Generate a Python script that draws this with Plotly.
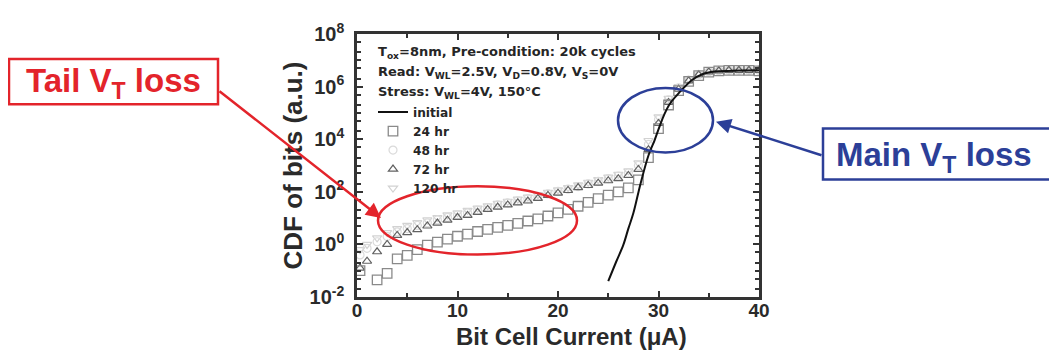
import plotly.graph_objects as go

# ---------------- data ----------------
# Bit cell current (uA) and log10(CDF of bits)
current_initial = [25.0, 25.8, 26.5, 27.0, 27.5, 28.2, 29.0, 29.6, 30.1, 30.6, 31.1, 31.8, 32.5, 33.3, 34.3, 35.6, 38.0, 40.0]
logcdf_initial = [-1.40, -0.65, -0.02, 0.60, 1.19, 2.29, 3.38, 3.95, 4.48, 4.96, 5.33, 5.66, 5.95, 6.24, 6.46, 6.57, 6.61, 6.62]

current_24hr = [0.3, 2, 3, 4, 5, 6, 7, 8, 9, 10, 11, 12, 13, 14, 15, 16, 17, 18, 19, 20,
                21, 22, 23, 24, 25, 26, 27, 28, 29, 30, 31, 32, 33, 34, 35, 36, 37, 38, 39, 40]
logcdf_24hr = [-1.00, -1.35, -1.10, -0.55, -0.42, -0.20, -0.03, 0.09, 0.20, 0.31, 0.39, 0.49, 0.57, 0.65, 0.72, 0.80, 0.89, 0.97, 1.08, 1.20,
               1.33, 1.45, 1.60, 1.74, 1.87, 2.00, 2.15, 2.45, 3.30, 4.40, 5.30, 5.85, 6.20, 6.42, 6.55, 6.60, 6.62, 6.62, 6.62, 6.60]

current_48hr = [0.3, 1, 2, 3, 4, 5, 6, 7, 8, 9, 10, 11, 12, 13, 14, 15, 16, 17, 18, 19, 20,
                21, 22, 23, 24, 25, 26, 27, 28, 29, 30, 31, 32, 33, 34, 35, 36, 37, 38, 39, 40]
logcdf_48hr = [-0.40, -0.15, 0.10, 0.30, 0.48, 0.60, 0.72, 0.82, 0.93, 1.03, 1.12, 1.20, 1.30, 1.40, 1.50, 1.58, 1.66, 1.74, 1.83, 1.92, 2.02,
               2.10, 2.20, 2.30, 2.40, 2.50, 2.60, 2.72, 3.00, 3.80, 4.75, 5.50, 5.95, 6.25, 6.45, 6.56, 6.60, 6.62, 6.62, 6.62, 6.62]

current_72hr = [0.3, 1, 2, 3, 4, 5, 6, 7, 8, 9, 10, 11, 12, 13, 14, 15, 16, 17, 18, 19, 20,
                21, 22, 23, 24, 25, 26, 27, 28, 29, 30, 31, 32, 33, 34, 35, 36, 37, 38, 39, 40]
logcdf_72hr = [-0.90, -0.64, -0.28, 0.00, 0.34, 0.45, 0.56, 0.70, 0.81, 0.92, 1.03, 1.10, 1.22, 1.33, 1.42, 1.50, 1.58, 1.65, 1.75, 1.86, 1.95,
               2.05, 2.16, 2.24, 2.33, 2.42, 2.50, 2.62, 2.85, 3.60, 4.60, 5.40, 5.90, 6.22, 6.45, 6.56, 6.60, 6.62, 6.62, 6.62, 6.62]

current_120hr = [0.3, 1, 2, 3, 4, 5, 6, 7, 8, 9, 10, 11, 12, 13, 14, 15, 16, 17, 18, 19, 20,
                 21, 22, 23, 24, 25, 26, 27, 28, 29, 30, 31, 32, 33, 34, 35, 36, 37, 38, 39, 40]
logcdf_120hr = [-0.20, 0.00, 0.25, 0.45, 0.60, 0.72, 0.83, 0.93, 1.02, 1.12, 1.20, 1.29, 1.38, 1.47, 1.56, 1.64, 1.72, 1.80, 1.89, 1.98, 2.07,
                2.16, 2.26, 2.36, 2.46, 2.56, 2.66, 2.80, 3.10, 3.95, 4.85, 5.55, 6.00, 6.28, 6.47, 6.57, 6.60, 6.62, 6.62, 6.62, 6.62]

y_label_exponents = [-2, 0, 2, 4, 6, 8]
y_minor_exponents = [-1, 1, 3, 5, 7]
x_tick_values = [0, 10, 20, 30, 40]

# ---------------- figure ----------------
OFF = 8                      # page offset of the figure (body margin)
PAGE_W, PAGE_H = 1057, 353
W, H = PAGE_W - OFF, PAGE_H - OFF
L, R, T, B = 357, 759, 24, 297  # plot area in page pixels


def px(x):
    return (x - L) / (R - L)


def py(y):
    return (B - y) / (B - T)


FONT = "Arial, Liberation Sans, sans-serif"
WIDE = "DejaVu Sans, Verdana, sans-serif"


def to_cdf(vals):
    return [10 ** v for v in vals]


fig = go.Figure()

fig.add_trace(go.Scatter(
    x=current_120hr, y=to_cdf(logcdf_120hr), mode="markers", name="120 hr", legendrank=5,
    marker=dict(symbol="triangle-down-open", size=8, color="#d2d2d2", line=dict(width=1.2, color="#d2d2d2"))))
fig.add_trace(go.Scatter(
    x=current_48hr, y=to_cdf(logcdf_48hr), mode="markers", name="48 hr", legendrank=3,
    marker=dict(symbol="circle-open", size=8, color="#dadada", line=dict(width=1.2, color="#dadada"))))
fig.add_trace(go.Scatter(
    x=current_72hr, y=to_cdf(logcdf_72hr), mode="markers", name="72 hr", legendrank=4,
    marker=dict(symbol="triangle-up-open", size=8, color="#626262", line=dict(width=1.2, color="#626262"))))
fig.add_trace(go.Scatter(
    x=current_24hr, y=to_cdf(logcdf_24hr), mode="markers", name="24 hr", legendrank=2,
    marker=dict(symbol="square-open", size=9.5, color="#8a8a8a", line=dict(width=1.3, color="#8a8a8a"))))
fig.add_trace(go.Scatter(
    x=current_initial, y=to_cdf(logcdf_initial), mode="lines", name="initial", legendrank=1,
    line=dict(color="#111111", width=2, shape="spline")))

axis_common = dict(
    showline=True, linecolor="#333333", linewidth=2.5, mirror="allticks",
    ticks="inside", tickcolor="#333333", showgrid=False, zeroline=False,
)

fig.update_xaxes(
    **axis_common, range=[0, 40], tickvals=x_tick_values, ticklen=6, tickwidth=2,
    tickfont=dict(family=FONT, size=19, color="#2a2a2a", weight="bold"),
    minor=dict(ticks="inside", dtick=5, ticklen=4, tickwidth=2, tickcolor="#333333", showgrid=False),
    ticklabelstandoff=-6,
)

minor_vals = [10 ** e for e in y_minor_exponents]
for e in range(-2, 8):
    minor_vals += [2 * 10 ** e, 5 * 10 ** e]

fig.update_yaxes(
    **axis_common, type="log", range=[-2, 8],
    tickvals=[10 ** e for e in y_label_exponents],
    ticktext=[f"10<sup>{e}</sup>" for e in y_label_exponents],
    tickfont=dict(family=FONT, size=20, color="#2a2a2a", weight="bold"),
    ticklen=6, tickwidth=2,
    minor=dict(ticks="inside", tickmode="array", tickvals=minor_vals, ticklen=4, tickwidth=1.5,
               tickcolor="#333333", showgrid=False),
    ticklabelstandoff=6,
    title=dict(text="CDF of bits (a.u.)", standoff=0,
               font=dict(family=FONT, size=26, color="#2a2a2a", weight="bold")),
)

annotations = []

# x axis title (slightly right of centre, as in the reference)
annotations.append(dict(
    text="Bit Cell Current (μA)", x=px(571), y=py(338.5), xref="paper", yref="paper",
    xanchor="center", yanchor="middle", showarrow=False,
    font=dict(family=FONT, size=24, color="#2a2a2a", weight="bold")))

# condition text inside the plot
info_lines = [
    ("T<sub>ox</sub>=8nm, Pre-condition: 20k cycles", 43),
    ("Read: V<sub>WL</sub>=2.5V, V<sub>D</sub>=0.8V, V<sub>S</sub>=0V", 64),
    ("Stress: V<sub>WL</sub>=4V, 150°C", 85),
]
for txt, ypix in info_lines:
    annotations.append(dict(
        text=txt, x=px(376), y=py(ypix), xref="paper", yref="paper",
        xanchor="left", yanchor="middle", showarrow=False,
        font=dict(family=WIDE, size=13, color="#262626", weight="bold")))

RED = "#e3242b"
BLUE = "#2c3f98"

# callout labels
annotations.append(dict(
    text="Tail V<sub>T</sub> loss", x=px(113), y=py(75), xref="paper", yref="paper",
    xanchor="center", yanchor="middle", showarrow=False,
    font=dict(family=FONT, size=33, color=RED, weight="bold")))
annotations.append(dict(
    text="Main V<sub>T</sub> loss", x=px(934), y=py(152), xref="paper", yref="paper",
    xanchor="center", yanchor="middle", showarrow=False,
    font=dict(family=FONT, size=33, color=BLUE, weight="bold")))

# arrows
annotations.append(dict(
    text="", x=px(381), y=py(215), xref="paper", yref="paper",
    ax=218 - 381, ay=87 - 215, axref="pixel", ayref="pixel",
    showarrow=True, arrowhead=2, arrowsize=1.2, arrowwidth=2.5, arrowcolor=RED, standoff=0))
annotations.append(dict(
    text="", x=px(716), y=py(115), xref="paper", yref="paper",
    ax=823 - 716, ay=149 - 115, axref="pixel", ayref="pixel",
    showarrow=True, arrowhead=2, arrowsize=1.2, arrowwidth=2.5, arrowcolor=BLUE, standoff=0))

shapes = [
    dict(type="rect", xref="paper", yref="paper", x0=px(9), x1=px(218), y0=py(50), y1=py(97),
         line=dict(color=RED, width=2.5), fillcolor="rgba(0,0,0,0)"),
    dict(type="rect", xref="paper", yref="paper", x0=px(823), x1=px(1070), y0=py(122), y1=py(175),
         line=dict(color=BLUE, width=2.5), fillcolor="rgba(0,0,0,0)"),
    dict(type="circle", xref="paper", yref="paper", x0=px(378), x1=px(577), y0=py(182), y1=py(253),
         line=dict(color=RED, width=2.5)),
    dict(type="circle", xref="paper", yref="paper", x0=px(618), x1=px(713), y0=py(80), y1=py(147),
         line=dict(color=BLUE, width=2.5)),
]

fig.update_layout(
    width=W, height=H,
    margin=dict(l=L - OFF, r=W - (R - OFF), t=T - OFF, b=H - (B - OFF), pad=0),
    paper_bgcolor="white", plot_bgcolor="white",
    showlegend=True,
    legend=dict(x=px(373), y=py(90), xanchor="left", yanchor="top",
                bgcolor="rgba(0,0,0,0)", borderwidth=0,
                font=dict(family=WIDE, size=12.2, color="#262626", weight="bold"),
                itemwidth=30, tracegroupgap=0),
    annotations=annotations,
    shapes=shapes,
)

fig.write_html("out.html")
